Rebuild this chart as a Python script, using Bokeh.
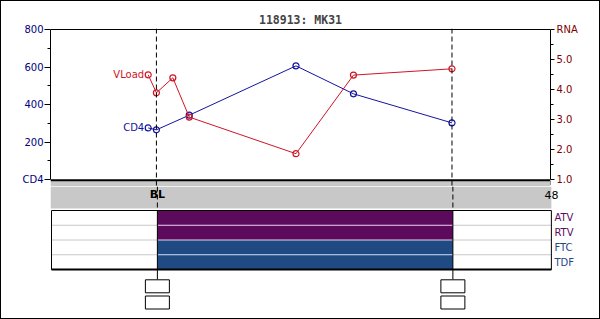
from bokeh.plotting import figure
from bokeh.models import Range1d, LinearAxis, FixedTicker, Span, BoxAnnotation, PrintfTickFormatter
from bokeh.layouts import column
from bokeh.embed import file_html
from bokeh.resources import INLINE
from bokeh.core.properties import value

# ---------------- data ----------------
title_text = "118913: MK31"
cd4_weeks = [-1, 0, 4, 17, 24, 36]
cd4_values = [275, 265, 343, 606, 457, 302]
vl_weeks = [-1, 0, 2, 4, 17, 24, 36]
vl_values = [4.49, 3.89, 4.39, 3.08, 1.86, 4.48, 4.69]
visit_weeks = [0, 36]
xtick_weeks = [-12, 0, 12, 24, 36, 48]
xtick_labels = ["", "BL", "", "", "", "48"]
xtick_styles = ["normal", "bold", "normal", "normal", "normal", "normal"]
cd4_ticks = [0, 200, 400, 600, 800]
cd4_minor = [100, 300, 500, 700]
rna_ticks = [1, 2, 3, 4, 5, 6]
rna_minor = [1.5, 2.5, 3.5, 4.5, 5.5]
drugs = ["ATV", "RTV", "FTC", "TDF"]
drug_rows = [3, 2, 1, 0]
drug_start = [0, 0, 0, 0]
drug_stop = [36, 36, 36, 36]
drug_colors = ["#5c0a5c", "#5c0a5c", "#1f4b82", "#1f4b82"]
drug_sep_colors = ["#e8c8e8", "#e8d0f0", "#c8d8f0"]

X0, X1 = -12.9, 48.0
PXW = 394.0 / 48.0       # px per week
CD4_PX = 800.0 / 150.0   # cd4 units per px
RNA_PX = 1.0 / 30.0      # rna units per px
ROW_PX = 14.75           # px per regimen row
ROW0 = 269.0             # page y of the regimen box bottom
FA_BOTTOM = 186          # page y where the upper figure ends


def py(page_y):
    """page pixel row -> regimen-panel y units"""
    return (ROW0 - page_y) / ROW_PX


BLUE = "#1414a0"
RED = "#d01424"
NAVY = "#000080"
MAROON = "#800000"
FONT = "DejaVu Sans"
GRAY = "#c8c8c8"

# ---------------- main panel ----------------
fa = figure(frame_width=500, frame_height=FA_BOTTOM - 28, output_backend="svg", toolbar_location=None,
            x_range=Range1d(X0, X1),
            y_range=Range1d(-(FA_BOTTOM - 179) * CD4_PX, 800 + 1 * CD4_PX),
            x_axis_location=None, y_axis_location=None,
            min_border_left=49, min_border_right=49, min_border_top=27, min_border_bottom=0,
            outline_line_color=None, background_fill_color="white", border_fill_color="white")
fa.grid.visible = False
fa.extra_y_ranges = {"rna": Range1d(1 - (FA_BOTTOM - 179) * RNA_PX, 6 + RNA_PX)}

fa.title.text = title_text
fa.title.align = "center"
fa.title.text_font = "DejaVu Sans Mono"
fa.title.text_font_size = "11.5px"
fa.title.text_font_style = "bold"
fa.title.standoff = 3

axis_common = dict(major_tick_in=0, minor_tick_in=0, major_label_text_font=FONT,
                   major_label_text_font_size="10px", axis_line_color="black",
                   major_tick_line_color="black", minor_tick_line_color="black")
ly = LinearAxis(bounds=(0, 800), ticker=FixedTicker(ticks=cd4_ticks, minor_ticks=cd4_minor),
                major_label_overrides={0: "CD4"}, major_tick_out=6, minor_tick_out=3,
                major_label_standoff=1, major_label_text_color=NAVY, **axis_common)
fa.add_layout(ly, "left")

ry = LinearAxis(y_range_name="rna", bounds=(1, 6),
                ticker=FixedTicker(ticks=rna_ticks, minor_ticks=rna_minor),
                formatter=PrintfTickFormatter(format="%.1f"),
                major_label_overrides={6: "RNA"}, major_tick_out=4, minor_tick_out=3,
                major_label_standoff=2, major_label_text_color=MAROON, **axis_common)
fa.add_layout(ry, "right")

# top of gray time band
fa.add_layout(BoxAnnotation(top=-1 * CD4_PX, fill_color=GRAY, fill_alpha=1.0, line_color=None))
fa.add_layout(Span(location=-0.8 * CD4_PX, dimension="width", line_color="black", line_width=2))
fa.add_layout(Span(location=800, dimension="width", line_color="black", line_width=1))
fa.segment(x0=xtick_weeks, y0=[-1.5 * CD4_PX] * len(xtick_weeks), x1=xtick_weeks,
           y1=[-5.5 * CD4_PX] * len(xtick_weeks), line_color="black", line_width=1)
for w in visit_weeks:
    fa.add_layout(Span(location=w, dimension="height", line_color="black",
                       line_width=1, line_dash="5 3"))

# series
fa.line(cd4_weeks, cd4_values, line_color=BLUE, line_width=1)
fa.scatter(cd4_weeks, cd4_values, marker="circle", size=6, line_color=BLUE,
           fill_color=None, line_width=1.2)
fa.line(vl_weeks, vl_values, line_color=RED, line_width=1, y_range_name="rna")
fa.scatter(vl_weeks, vl_values, marker="circle", size=6, line_color=RED, fill_color=None,
           line_width=1.2, y_range_name="rna")
fa.text(x=[cd4_weeks[0]], y=[cd4_values[0]], text=["CD4"], text_align="right",
        text_baseline="middle", x_offset=-4, text_color=BLUE,
        text_font=value(FONT), text_font_size="10px")
fa.text(x=[vl_weeks[0]], y=[vl_values[0]], text=["VLoad"], text_align="right",
        text_baseline="middle", x_offset=-4, text_color=RED,
        text_font=value(FONT), text_font_size="10px", y_range_name="rna")

# ---------------- time band + regimen panel ----------------
dx = 1.0 / PXW
fl = figure(frame_width=550, frame_height=310 - FA_BOTTOM, output_backend="svg",
            toolbar_location=None,
            x_range=Range1d(X0 - dx, X0 - dx + 550.0 / PXW),
            y_range=Range1d(py(310), py(FA_BOTTOM)),
            x_axis_location=None, y_axis_location=None,
            min_border_left=48, min_border_right=0, min_border_top=0, min_border_bottom=8,
            outline_line_color=None, background_fill_color="white", border_fill_color="white")
fl.grid.visible = False

# rest of the gray time band with its labels
fl.quad(left=[X0 - dx], right=[X1], bottom=[py(208)], top=[py(FA_BOTTOM)],
        fill_color=GRAY, line_color=None)
fl.text(x=xtick_weeks, y=[py(194)] * len(xtick_weeks), text=xtick_labels,
        text_align="center", text_baseline="middle", text_color="black",
        text_font=value(FONT), text_font_size="11px", text_font_style=xtick_styles)
fl.segment(x0=visit_weeks, y0=[py(FA_BOTTOM)] * len(visit_weeks), x1=visit_weeks,
           y1=[py(209)] * len(visit_weeks), line_color="black", line_width=1, line_dash="5 3")

n = len(drugs)
fl.segment(x0=[X0] * (n - 1), y0=drug_rows[:-1], x1=[X1] * (n - 1), y1=drug_rows[:-1],
           line_color=GRAY, line_width=1)
fl.quad(left=drug_start, right=drug_stop, bottom=drug_rows, top=[r + 1 for r in drug_rows],
        fill_color=drug_colors, line_color=None)
fl.segment(x0=drug_start[:-1], y0=drug_rows[:-1], x1=drug_stop[:-1], y1=drug_rows[:-1],
           line_color=drug_sep_colors, line_width=1)
fl.quad(left=[X0], right=[X1], bottom=[0], top=[4], fill_color=None,
        line_color="black", line_width=1)
fl.segment(x0=[X0], y0=[0], x1=[X1], y1=[0], line_color="black", line_width=2)
fl.text(x=[X1] * n, y=[r + 0.5 for r in drug_rows], text=drugs, x_offset=3,
        text_align="left", text_baseline="middle", text_color=drug_colors,
        text_font=value(FONT), text_font_size="10px")

# visit connectors and lab boxes
fl.segment(x0=visit_weeks, y0=[4] * len(visit_weeks), x1=visit_weeks,
           y1=[py(279)] * len(visit_weeks), line_color="black", line_width=1)
for yc in (py(285.8), py(302.0)):
    fl.rect(x=visit_weeks, y=[yc] * len(visit_weeks), width=24, width_units="screen",
            height=13, height_units="screen", fill_color="white", line_color="black",
            line_width=1)

layout = column(fa, fl, spacing=0, styles={"border": "1px solid black"})
open("out.html", "w").write(file_html(layout, INLINE))
